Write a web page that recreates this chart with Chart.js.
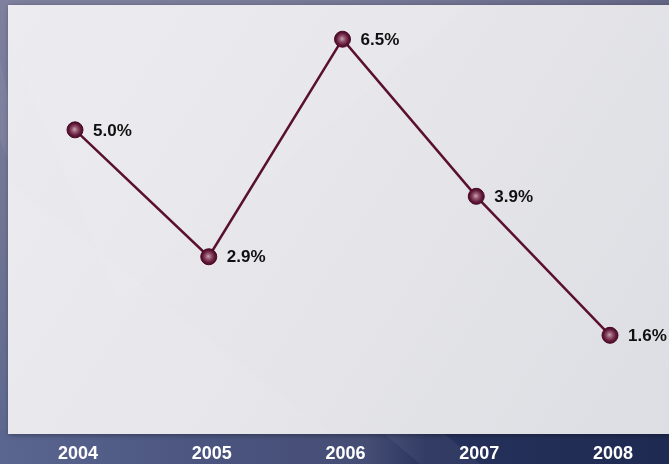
<!DOCTYPE html>
<html>
<head>
<meta charset="utf-8">
<script src="https://cdn.jsdelivr.net/npm/chart.js@4/dist/chart.umd.min.js"></script>
<style>
  html, body { margin: 0; padding: 0; background: #3a4270; }
  #wrap { width: 669px; height: 464px; position: relative; }
</style>
</head>
<body>
<div id="wrap"><canvas id="c" width="669" height="464"></canvas></div>
<script>
// Annual growth rate, percent
const years = ['2004', '2005', '2006', '2007', '2008'];
const growth = [5.0, 2.9, 6.5, 3.9, 1.6];
const valueLabels = ['5.0%', '2.9%', '6.5%', '3.9%', '1.6%'];

// Backdrop: dark frame plus the light plotting panel
const backdrop = {
  id: 'backdrop',
  beforeDraw(chart) {
    const ctx = chart.ctx;
    const W = chart.width, H = chart.height;
    ctx.save();
    // frame, left/top part
    let g = ctx.createLinearGradient(0, 0, 0, H);
    g.addColorStop(0, '#7e809e');
    g.addColorStop(0.5, '#6f7493');
    g.addColorStop(1, '#5b668e');
    ctx.fillStyle = g;
    ctx.fillRect(0, 0, W, H);
    g = ctx.createLinearGradient(0, 0, W, 0);
    g.addColorStop(0, 'rgba(124,126,156,0)');
    g.addColorStop(1, '#636585');
    ctx.fillStyle = g;
    ctx.fillRect(0, 0, W, 6);
    // frame, bottom strip
    g = ctx.createLinearGradient(0, 0, W, 0);
    g.addColorStop(0, '#5a6690');
    g.addColorStop(0.3, '#4b5580');
    g.addColorStop(0.55, '#454d74');
    g.addColorStop(0.64, '#27325c');
    g.addColorStop(1, '#1f2a52');
    ctx.fillStyle = g;
    ctx.fillRect(0, 430, W, H - 430);
    // soft diagonal sheen in the frame
    ctx.fillStyle = 'rgba(255,255,255,0.05)';
    ctx.beginPath();
    ctx.moveTo(0, 60); ctx.lineTo(0, 140); ctx.lineTo(40, 240); ctx.closePath();
    ctx.fill();
    ctx.beginPath();
    ctx.moveTo(380, 430); ctx.lineTo(440, 430); ctx.lineTo(480, 464); ctx.lineTo(420, 464); ctx.closePath();
    ctx.fill();
    // panel with a soft drop shadow
    ctx.shadowColor = 'rgba(0,0,0,0.35)';
    ctx.shadowBlur = 5;
    ctx.shadowOffsetX = 1;
    ctx.shadowOffsetY = 1;
    g = ctx.createLinearGradient(8, 5, W, 434);
    g.addColorStop(0, '#ebebef');
    g.addColorStop(0.5, '#e5e5ea');
    g.addColorStop(1, '#dddee3');
    ctx.fillStyle = g;
    ctx.fillRect(8, 5, W - 8, 429);
    ctx.shadowColor = 'transparent';
    // faint light bands across the panel
    ctx.fillStyle = 'rgba(255,255,255,0.08)';
    ctx.beginPath();
    ctx.moveTo(8, 40); ctx.lineTo(8, 5); ctx.lineTo(470, 5); ctx.lineTo(120, 300); ctx.closePath();
    ctx.fill();
    ctx.fillStyle = 'rgba(255,255,255,0.06)';
    ctx.beginPath();
    ctx.moveTo(8, 180); ctx.lineTo(330, 434); ctx.lineTo(8, 434); ctx.closePath();
    ctx.fill();
    ctx.restore();
  }
};

// Percent labels beside each point
const valueTags = {
  id: 'valueTags',
  afterDatasetsDraw(chart) {
    const ctx = chart.ctx;
    const meta = chart.getDatasetMeta(0);
    ctx.save();
    ctx.font = 'bold 17px "Liberation Sans", Arial, sans-serif';
    ctx.fillStyle = '#101010';
    ctx.textAlign = 'left';
    ctx.textBaseline = 'middle';
    meta.data.forEach((pt, i) => {
      ctx.fillText(valueLabels[i], pt.x + 18, pt.y + 1);
    });
    ctx.restore();
  }
};

// Shaded bead fill, centred on each point's own position
function pointFill(context) {
  const chart = context.chart;
  const xs = chart.scales.x, ys = chart.scales.y;
  const i = context.dataIndex;
  if (!xs || !ys || i === undefined) return '#6a1838';
  const x = xs.getPixelForValue(i);
  const y = ys.getPixelForValue(growth[i]);
  if (!Number.isFinite(x) || !Number.isFinite(y)) return '#6a1838';
  const g = chart.ctx.createRadialGradient(x - 0.5, y - 0.5, 0, x, y, 8);
  g.addColorStop(0, '#c8a6b2');
  g.addColorStop(0.35, '#94566e');
  g.addColorStop(0.75, '#60183a');
  g.addColorStop(1, '#4e0b29');
  return g;
}

new Chart(document.getElementById('c'), {
  type: 'line',
  data: {
    labels: years,
    datasets: [{
      data: growth,
      borderColor: '#5a1030',
      borderWidth: 2.5,
      tension: 0,
      pointRadius: 8,
      pointHoverRadius: 8,
      pointBackgroundColor: pointFill,
      pointBorderColor: '#46081f',
      pointBorderWidth: 1
    }]
  },
  options: {
    responsive: false,
    animation: false,
    events: [],
    layout: { padding: { left: 75, right: 59, top: 6, bottom: 0 } },
    plugins: { legend: { display: false }, tooltip: { enabled: false } },
    scales: {
      x: {
        offset: false,
        grid: { display: false, drawTicks: false },
        border: { display: false },
        ticks: {
          color: '#ffffff',
          font: { family: '"Liberation Sans", Arial, sans-serif', size: 18, weight: 'bold' },
          padding: 11,
          labelOffset: 3,
          maxRotation: 0,
          autoSkip: false
        },
        afterFit(scale) { scale.height = 32; }
      },
      y: {
        display: false,
        min: 0,
        max: 7
      }
    }
  },
  plugins: [backdrop, valueTags]
});
</script>
</body>
</html>
